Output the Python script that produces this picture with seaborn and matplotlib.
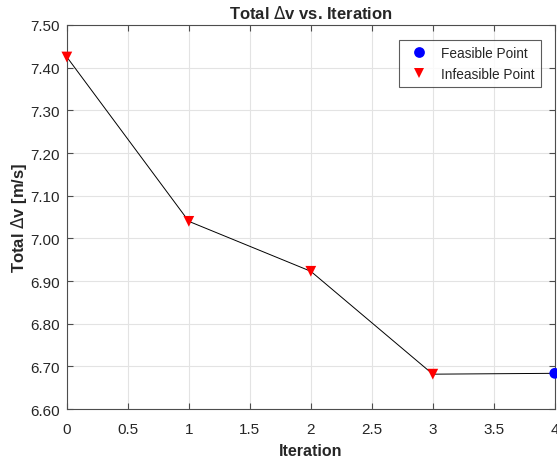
import pandas as pd
import matplotlib.pyplot as plt
import seaborn as sns

# Data
iteration = [0, 1, 2, 3, 4]
total_dv = [7.425, 7.040, 6.923, 6.682, 6.684]
status = ["Infeasible Point", "Infeasible Point", "Infeasible Point", "Infeasible Point", "Feasible Point"]

xticks = [0, 0.5, 1, 1.5, 2, 2.5, 3, 3.5, 4]
xtick_labels = ["0", "0.5", "1", "1.5", "2", "2.5", "3", "3.5", "4"]
yticks = [6.6, 6.7, 6.8, 6.9, 7.0, 7.1, 7.2, 7.3, 7.4, 7.5]

df = pd.DataFrame({"iteration": iteration, "total_dv": total_dv, "status": status})

sns.set_style("ticks")
plt.rcParams['font.family'] = ['Liberation Sans', 'DejaVu Sans']
plt.rcParams['mathtext.fontset'] = 'dejavusans'

fig = plt.figure(figsize=(5.57, 4.64), dpi=100)
ax = fig.add_axes([0.12, 0.116, 0.876, 0.828])

# Connecting line
sns.lineplot(data=df, x="iteration", y="total_dv", color="black", linewidth=0.7,
             ax=ax, legend=False, zorder=2)

# Markers by feasibility
sns.scatterplot(data=df, x="iteration", y="total_dv", hue="status", style="status",
                hue_order=["Feasible Point", "Infeasible Point"],
                style_order=["Feasible Point", "Infeasible Point"],
                palette={"Feasible Point": "#0000ff", "Infeasible Point": "#ff0000"},
                markers={"Feasible Point": "o", "Infeasible Point": "v"},
                s=60, edgecolor="none", linewidth=0, ax=ax, zorder=3, clip_on=False)

ax.set_xlim(0, 4)
ax.set_ylim(6.6, 7.5)
ax.set_xticks(xticks)
ax.set_xticklabels(xtick_labels)
ax.set_yticks(yticks)
ax.set_yticklabels([f"{v:.2f}" for v in yticks])
ax.grid(True, color="#e3e3e3", linewidth=0.8)
ax.set_axisbelow(True)
ax.tick_params(direction="in", length=4, labelsize=11, colors="#4d4d4d",
               labelcolor="#262626", top=True, right=True, labeltop=False, labelright=False)
ax.tick_params(axis="x", pad=9)
ax.tick_params(axis="y", pad=5)
for sp in ax.spines.values():
    sp.set_color("#4d4d4d")
    sp.set_linewidth(0.8)

ax.set_title("Total $\\Delta$v vs. Iteration", fontsize=12, fontweight="bold", pad=5)
ax.set_xlabel("Iteration", fontsize=11.5, fontweight="bold", labelpad=5)
ax.set_ylabel("Total $\\Delta$v [m/s]", fontsize=12, fontweight="bold", labelpad=1)

leg = ax.legend(loc="upper right", bbox_to_anchor=(0.971, 0.962), borderaxespad=0,
                fontsize=9.8, frameon=True, fancybox=False, edgecolor="#333333",
                handletextpad=0.6, borderpad=0.45, markerscale=1.0)
leg.get_frame().set_linewidth(0.8)

fig.savefig("out.png", dpi=100)
